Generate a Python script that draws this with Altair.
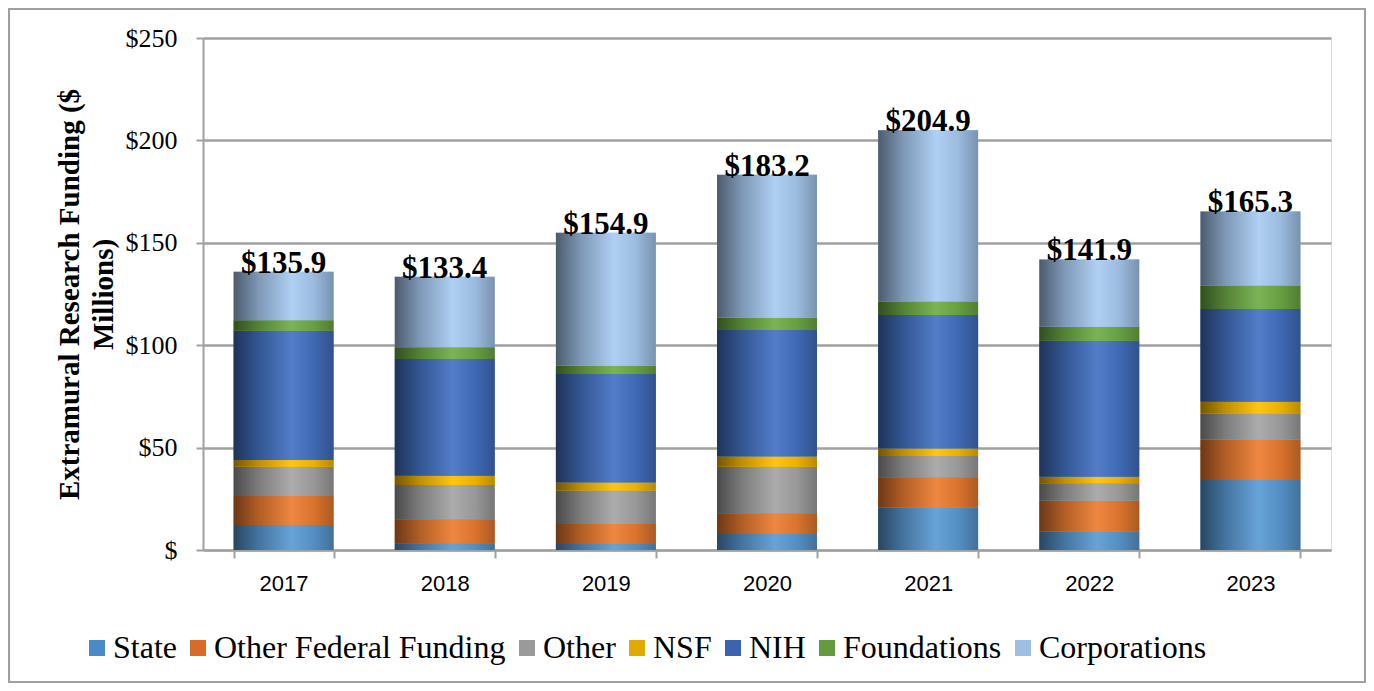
import altair as alt
import pandas as pd

years = ["2017", "2018", "2019", "2020", "2021", "2022", "2023"]
series = ["State", "Other Federal Funding", "Other", "NSF", "NIH", "Foundations", "Corporations"]

state = [12.2, 3.3, 2.9, 7.8, 20.8, 9.0, 34.2]
other_federal = [14.2, 11.7, 9.8, 10.1, 14.7, 15.1, 19.8]
other = [14.3, 16.7, 16.3, 22.8, 10.4, 8.5, 12.7]
nsf = [3.2, 4.6, 4.0, 4.9, 3.7, 3.2, 5.7]
nih = [63.2, 57.0, 52.9, 61.8, 65.2, 66.4, 45.3]
foundations = [5.1, 5.7, 4.1, 6.0, 6.5, 6.8, 11.4]
corporations = [23.7, 34.4, 64.9, 69.8, 83.6, 32.9, 36.2]

y_ticks = [0, 50, 100, 150, 200, 250]

legend_colors = ["#4A8AC6", "#D86B2A", "#9A9A9A", "#E2AA00", "#3B63AF", "#639B3E", "#9CBFE6"]
base_colors = ["#5B9BD5", "#ED7D31", "#A5A5A5", "#FFC000", "#4472C4", "#70AD47", "#A8CBF2"]

values = [state, other_federal, other, nsf, nih, foundations, corporations]
rows = []
for si, (s, vals) in enumerate(zip(series, values)):
    for y, v in zip(years, vals):
        rows.append({"year": y, "series": s, "value": v, "order": si})
df = pd.DataFrame(rows)


def to_rgb(h):
    h = h.lstrip("#")
    return [int(h[i:i + 2], 16) for i in (0, 2, 4)]


def to_hex(rgb):
    return "#" + "".join(f"{max(0, min(255, int(round(c)))):02x}" for c in rgb)


def shade(h, f):
    return to_hex([c * f for c in to_rgb(h)])


def lighten(h, f):
    return to_hex([c + (255 - c) * f for c in to_rgb(h)])


def gradient(h):
    return alt.LinearGradient(
        gradient="linear", x1=0, x2=1, y1=0, y2=0,
        stops=[
            alt.GradientStop(color=shade(h, 0.45), offset=0),
            alt.GradientStop(color=shade(h, 0.75), offset=0.25),
            alt.GradientStop(color=lighten(h, 0.08), offset=0.58),
            alt.GradientStop(color=shade(h, 0.92), offset=0.8),
            alt.GradientStop(color=shade(h, 0.72), offset=1),
        ],
    )


W, H = 1128, 512
PAD = {"left": 195, "top": 30, "right": 35, "bottom": 133}
grey = "#A0A0A0"

xscale = alt.Scale(domain=years, paddingInner=0.38, paddingOuter=0.19)
yscale = alt.Scale(domain=[0, 250], nice=False)

x_axis = alt.Axis(
    title=None, labelAngle=0, labelFont="Liberation Sans", labelFontSize=22,
    labelColor="black", tickBand="extent", tickSize=8, labelPadding=15, grid=False,
    domainColor=grey, domainWidth=2, tickColor=grey, tickWidth=2,
)
y_axis = alt.Axis(
    values=y_ticks, labelExpr="datum.value == 0 ? '$' : '$' + datum.value",
    labelFont="Liberation Serif", labelFontSize=26, labelColor="black",
    tickSize=7, labelPadding=19, grid=True,
    gridColor=grey, gridWidth=2.5, gridOpacity=1,
    domainColor=grey, domainWidth=2, tickColor=grey, tickWidth=2,
    title=["Extramural Research Funding ($", "Millions)"],
    titleFont="Liberation Serif", titleFontSize=29, titleFontWeight="bold",
    titleColor="black", titleLineHeight=34, titleAngle=270,
    titleX=-148, titleY=H / 2, titleAlign="center", titleBaseline="top",
)

stacked = alt.Chart(df).transform_stack(
    stack="value", groupby=["year"], sort=[alt.SortField("order", order="ascending")],
    as_=["v0", "v1"],
)

flat = stacked.mark_bar().encode(
    x=alt.X("year:N", scale=xscale, axis=x_axis, sort=years),
    y=alt.Y("v0:Q", scale=yscale, axis=y_axis, stack=None),
    y2="v1:Q",
    color=alt.Color(
        "series:N", scale=alt.Scale(domain=series, range=legend_colors),
        legend=alt.Legend(
            title=None, orient="none", direction="horizontal", columns=7,
            legendX=-122, legendY=594, padding=0, symbolType="square", symbolSize=256,
            symbolStrokeWidth=0, labelFont="Liberation Serif", labelFontSize=32,
            labelColor="black", labelOffset=0, columnPadding=5, labelLimit=500,
        ),
    ),
)

grad_layers = []
for s, c in zip(series, base_colors):
    grad_layers.append(
        stacked.transform_filter(alt.datum.series == s)
        .mark_bar(fill=gradient(c))
        .encode(
            x=alt.X("year:N", sort=years),
            y=alt.Y("v0:Q", stack=None),
            y2="v1:Q",
        )
    )

labels = alt.Chart(df).transform_aggregate(
    total="sum(value)", groupby=["year"]
).mark_text(
    font="Liberation Serif", fontSize=31, fontWeight="bold", color="black",
    baseline="alphabetic", align="center", dy=1,
).encode(
    x=alt.X("year:N", sort=years),
    y=alt.Y("total:Q"),
    text=alt.Text("total:Q", format="$.1f"),
)

border = alt.Chart(alt.Data(values=[{"a": 1}])).mark_rect(
    fillOpacity=0, stroke=grey, strokeWidth=2
).encode(
    x=alt.value(-PAD["left"] + 1), x2=alt.value(W + PAD["right"] - 1),
    y=alt.value(-PAD["top"] + 1), y2=alt.value(H + PAD["bottom"] - 1),
)

chart = alt.layer(flat, *grad_layers, labels, border).properties(
    width=W, height=H,
    autosize=alt.AutoSizeParams(type="none"),
    padding=PAD,
).configure_view(stroke=None).configure(background="white")

chart.save("out.html", embed_options={"renderer": "svg", "actions": False})
